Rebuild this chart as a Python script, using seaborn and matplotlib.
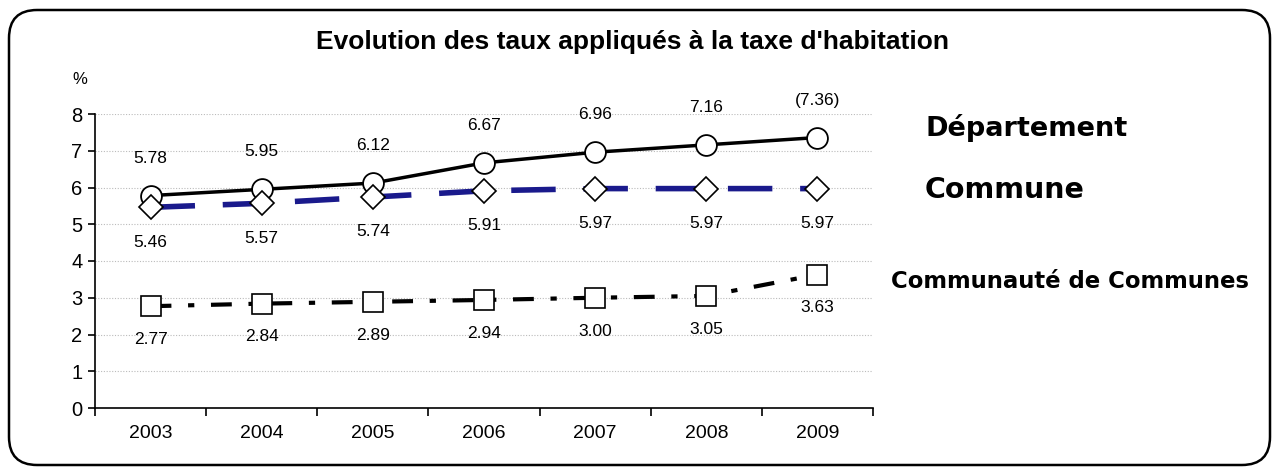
import matplotlib
matplotlib.use("Agg")
import matplotlib.pyplot as plt
import seaborn as sns
import pandas as pd
from matplotlib.patches import FancyBboxPatch

years = ["2003", "2004", "2005", "2006", "2007", "2008", "2009"]
departement = [5.78, 5.95, 6.12, 6.67, 6.96, 7.16, 7.36]
commune = [5.46, 5.57, 5.74, 5.91, 5.97, 5.97, 5.97]
communaute = [2.77, 2.84, 2.89, 2.94, 3.00, 3.05, 3.63]
dep_labels = ["5.78", "5.95", "6.12", "6.67", "6.96", "7.16", "(7.36)"]
com_labels = ["5.46", "5.57", "5.74", "5.91", "5.97", "5.97", "5.97"]
cc_labels = ["2.77", "2.84", "2.89", "2.94", "3.00", "3.05", "3.63"]
series_names = ["Département", "Commune", "Communauté de Communes"]

sns.set_theme(style="white")
plt.rcParams['font.family'] = ['Liberation Sans', 'DejaVu Sans']
plt.rcParams['text.color'] = 'black'
plt.rcParams['xtick.color'] = 'black'
plt.rcParams['ytick.color'] = 'black'
plt.rcParams['xtick.labelcolor'] = 'black'
plt.rcParams['ytick.labelcolor'] = 'black'

fig = plt.figure(figsize=(12.78, 4.75), dpi=100)
ax = fig.add_axes([95/1278, 1-408/475, (873-95)/1278, (408-114)/475])

# frame around figure
frame = FancyBboxPatch((9/1278, 10/475), 1261/1278, 455/475,
                       boxstyle="round,pad=0,rounding_size=0.022",
                       transform=fig.transFigure, fill=False, lw=1.8,
                       edgecolor="black", mutation_aspect=1278/475)
fig.patches.append(frame)

xs = list(range(len(years)))
df = pd.DataFrame({"x": xs, "dep": departement, "com": commune, "cc": communaute})

sns.lineplot(data=df, x="x", y="dep", ax=ax, color="black", lw=2.5,
             marker="o", markersize=15, markerfacecolor="white",
             markeredgecolor="black", markeredgewidth=1.3, zorder=3)
sns.lineplot(data=df, x="x", y="com", ax=ax, color="#1a1a8c", lw=4,
             marker="D", markersize=12, markerfacecolor="white",
             markeredgecolor="black", markeredgewidth=1.2, zorder=3)
ax.lines[-1].set_dashes([8, 5])
sns.lineplot(data=df, x="x", y="cc", ax=ax, color="black", lw=3,
             marker="s", markersize=14, markerfacecolor="white",
             markeredgecolor="black", markeredgewidth=1.2, zorder=3)
ax.lines[-1].set_dashes([5, 4, 1.5, 4])

lab_fs = 12.5
for i in xs:
    ax.annotate(dep_labels[i], (i, departement[i]), xytext=(0, 27),
                textcoords="offset points", ha="center", va="center", fontsize=lab_fs)
    ax.annotate(com_labels[i], (i, commune[i]), xytext=(0, -25),
                textcoords="offset points", ha="center", va="center", fontsize=lab_fs)
    ax.annotate(cc_labels[i], (i, communaute[i]), xytext=(0, -24),
                textcoords="offset points", ha="center", va="center", fontsize=lab_fs)

ax.set_xlim(-0.5, 6.5)
ax.set_ylim(0, 8)
ax.set_yticks(range(0, 9))
ax.set_xticks(xs)
ax.set_xticklabels(years, fontsize=14)
ax.set_xticks([i - 0.5 for i in range(8)], minor=True)
ax.tick_params(axis="x", which="major", length=0, pad=12)
ax.tick_params(axis="x", which="minor", length=6, width=1.2, color="black", direction="out", bottom=True)
ax.tick_params(axis="y", labelsize=14.5, length=5, width=1.2, color="black", direction="out", left=True, pad=4)
ax.set_xlabel("")
ax.set_ylabel("")
for s in ["top", "right"]:
    ax.spines[s].set_visible(False)
for s in ["left", "bottom"]:
    ax.spines[s].set_color("black")
    ax.spines[s].set_linewidth(1.2)
ax.grid(axis="y", color="#bbbbbb", linestyle=(0, (1, 1.5)), lw=0.8)
ax.set_facecolor("white")

fig.text(633/1278, 1-42/475, "Evolution des taux appliqués à la taxe d'habitation",
         ha="center", va="center", fontsize=19, fontweight="bold")
fig.text(80/1278, 1-79/475, "%", ha="center", va="center", fontsize=12)

fig.text(925/1278, 1-128/475, series_names[0], ha="left", va="center",
         fontsize=19.5, fontweight="bold", family=["DejaVu Sans"])
fig.text(925/1278, 1-190/475, series_names[1], ha="left", va="center",
         fontsize=20.5, fontweight="bold", family=["DejaVu Sans"])
fig.text(891/1278, 1-282/475, series_names[2], ha="left", va="center",
         fontsize=16.4, fontweight="bold", family=["DejaVu Sans"])

fig.savefig("out.png", dpi=100)
